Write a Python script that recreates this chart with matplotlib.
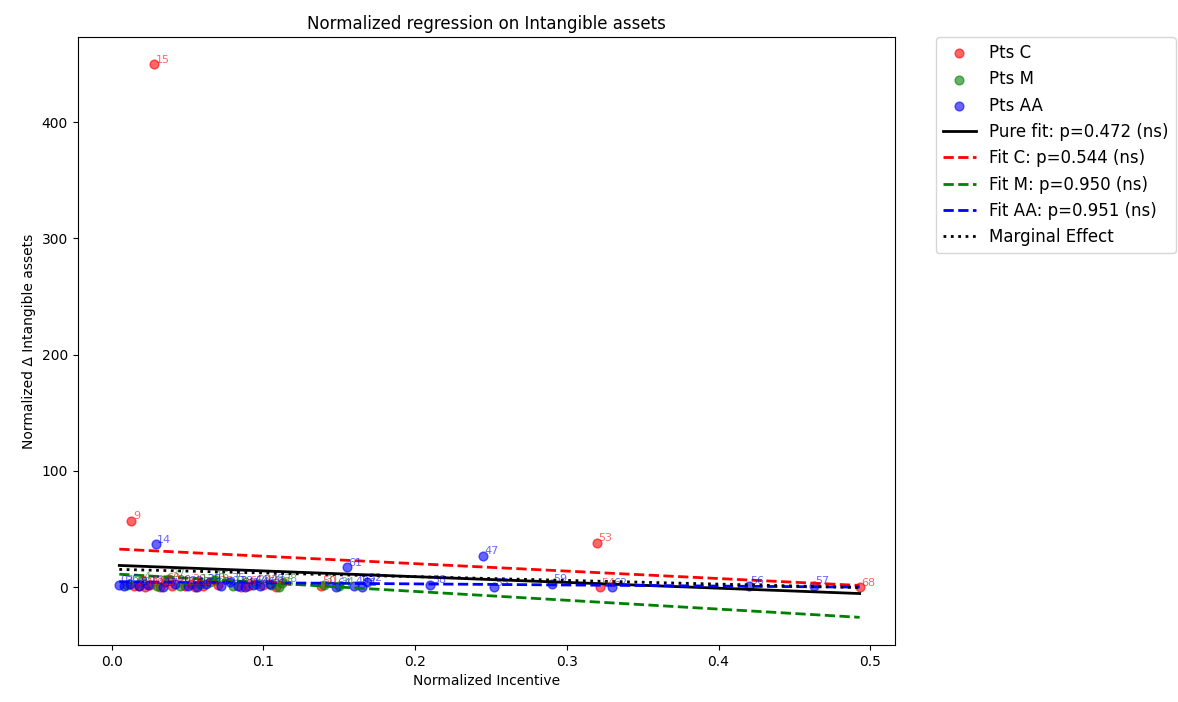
import numpy as np
import matplotlib.pyplot as plt

# normalized incentive (x), normalized delta intangible assets (y), firm id
c_x = [0.013, 0.028, 0.015, 0.018, 0.022, 0.025, 0.032, 0.040, 0.048, 0.052,
       0.060, 0.070, 0.085, 0.100, 0.108, 0.138, 0.320, 0.322, 0.493, 0.035,
       0.055, 0.090]
c_y = [57, 450, 0.5, 1.2, 0.0, 2.0, 0.3, 1.0, 0.5, 3.0,
       0.8, 1.5, 0.0, 2.0, 0.4, 1.0, 38, 0.0, 0.0, 4.0,
       0.2, 1.0]
c_id = [9, 15, 2, 5, 11, 18, 21, 24, 27, 30,
        33, 36, 39, 42, 45, 50, 53, 54, 68, 60,
        63, 65]

m_x = [0.010, 0.020, 0.030, 0.045, 0.058, 0.068, 0.080, 0.095, 0.110, 0.112,
       0.140, 0.150, 0.038, 0.065, 0.105]
m_y = [2.0, 5.0, 1.0, 0.5, 3.0, 6.0, 1.0, 2.5, 0.0, 3.5,
       2.0, 0.5, 7.0, 4.0, 1.5]
m_id = [1, 4, 7, 10, 13, 16, 19, 22, 25, 28,
        31, 34, 37, 40, 43]

aa_x = [0.005, 0.008, 0.012, 0.029, 0.018, 0.024, 0.034, 0.042, 0.050, 0.056,
        0.062, 0.072, 0.078, 0.083, 0.088, 0.093, 0.098, 0.104, 0.155, 0.160,
        0.165, 0.168, 0.245, 0.252, 0.210, 0.290, 0.330, 0.420, 0.463, 0.148]
aa_y = [2.0, 1.0, 3.0, 37, 0.5, 1.5, 0.0, 2.5, 1.0, 0.0,
        3.0, 0.5, 4.0, 1.0, 0.0, 2.0, 0.5, 3.0, 17, 1.0,
        0.0, 4.0, 27, 0.0, 2.0, 3.0, 0.0, 1.0, 1.0, 0.0]
aa_id = [0, 3, 6, 14, 8, 12, 17, 20, 23, 26,
         29, 32, 35, 38, 41, 44, 46, 48, 61, 49,
         51, 52, 47, 55, 58, 59, 62, 56, 57, 64]

# fitted lines: intercept, slope
x_range = [0.005, 0.493]
pure_fit = (18.8, -49.5)
fit_c = (32.9, -64.0)
fit_m = (11.4, -76.0)
fit_aa = (4.6, -9.5)
marginal = (15.3, -32.0)
p_values = {"pure": 0.472, "C": 0.544, "M": 0.950, "AA": 0.951}

fig = plt.figure(figsize=(11.78, 7.02), dpi=100)
ax = fig.add_axes([0.066, 0.081, 0.694, 0.866])

groups = [("C", c_x, c_y, c_id, "red"),
          ("M", m_x, m_y, m_id, "green"),
          ("AA", aa_x, aa_y, aa_id, "blue")]
for name, xs, ys, ids, col in groups:
    ax.scatter(xs, ys, color=col, alpha=0.6, s=40, label="Pts %s" % name)
    for x, y, i in zip(xs, ys, ids):
        ax.annotate(str(i), (x, y), xytext=(1, 1), textcoords="offset points",
                    color=col, alpha=0.6, fontsize=8)

xl = np.array(x_range)
ax.plot(xl, pure_fit[0] + pure_fit[1] * xl, color="black", lw=2,
        label="Pure fit: p=%.3f (ns)" % p_values["pure"])
ax.plot(xl, fit_c[0] + fit_c[1] * xl, color="red", ls="--", lw=2,
        label="Fit C: p=%.3f (ns)" % p_values["C"])
ax.plot(xl, fit_m[0] + fit_m[1] * xl, color="green", ls="--", lw=2,
        label="Fit M: p=%.3f (ns)" % p_values["M"])
ax.plot(xl, fit_aa[0] + fit_aa[1] * xl, color="blue", ls="--", lw=2,
        label="Fit AA: p=%.3f (ns)" % p_values["AA"])
ax.plot(xl, marginal[0] + marginal[1] * xl, color="black", ls=":", lw=2,
        label="Marginal Effect")

ax.set_xlim(-0.0224, 0.5165)
ax.set_ylim(-50, 473)
ax.set_title("Normalized regression on Intangible assets", fontsize=12)
ax.set_xlabel("Normalized Incentive")
ax.set_ylabel("Normalized \u0394 Intangible assets")
ax.legend(bbox_to_anchor=(1.05, 1), loc="upper left", borderaxespad=0.,
          fontsize=12)

fig.savefig("out.png", dpi=100)
